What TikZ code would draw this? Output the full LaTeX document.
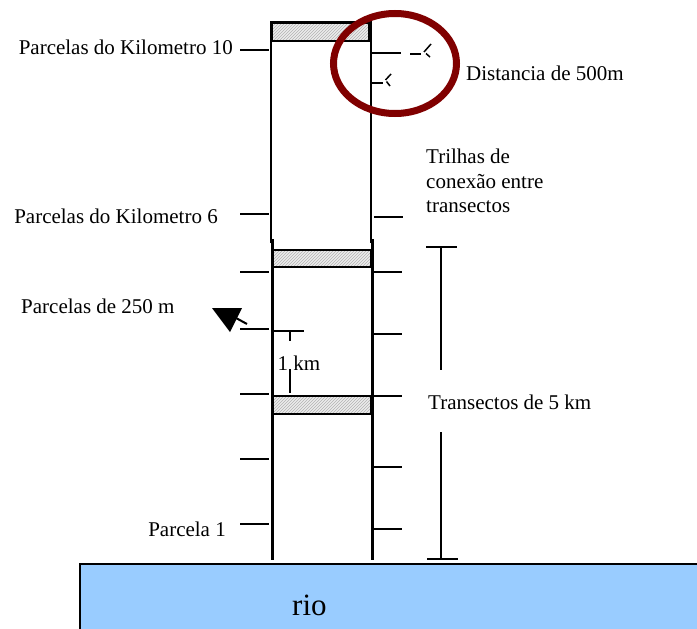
\documentclass[tikz,border=0pt]{standalone}
\usepackage{fontspec}
\setmainfont{Liberation Serif}
\usetikzlibrary{patterns}
\definecolor{vinho}{RGB}{128,0,0}
\definecolor{agua}{RGB}{153,204,255}

\begin{document}
\begin{tikzpicture}[x=1pt,y=-1pt,
  marca/.style={line width=2pt},
  borda/.style={line width=2.2pt},
  faixa/.style={line width=2pt, pattern=north east lines, pattern color=gray!60},
  rotulo/.style={inner sep=0pt, font=\fontsize{21}{25}\selectfont}]
\useasboundingbox (0,0) rectangle (697,629);
% rio
\draw [line width=1.8pt, fill=agua] (80,564) rectangle (700,632);
\node [rotulo, anchor=base west, font=\fontsize{31}{36}\selectfont] (rio) at (292,615) {rio};
% transecto
\draw [borda] (271,243) -- (271,22) -- (371,22) -- (371,243);
\draw [borda] (272.5,239) -- (272.5,560);
\draw [borda] (372.5,239) -- (372.5,560);
\fill [gray!15] (272,23) rectangle (369,40.5);
\draw [faixa] (272,23) rectangle (369,40.5);
\fill [gray!15] (273,249.5) rectangle (371,267);
\draw [faixa] (273,249.5) rectangle (371,267);
\fill [gray!15] (273,396) rectangle (371,414);
\draw [faixa] (273,396) rectangle (371,414);
% parcelas
\foreach \y in {50,214,272,329,394,459,524}
  \draw [marca] (240,\y) -- (269,\y);
\foreach \y in {272,334,396,467,529}
  \draw [marca] (373,\y) -- (402,\y);
\draw [marca] (372,53) -- (401,53);
\draw [marca] (374,217) -- (403,217);
\draw [marca] (372,83) -- (383,83);
% distancia
\draw [marca] (410,53.5) -- (421,53.5);
\draw [line width=1.5pt] (431,44) -- (424,52);
\draw [line width=1.5pt] (426,53.5) -- (430,57);
\draw [line width=1.5pt] (391,74) -- (385.5,80);
\draw [line width=1.5pt] (386.5,81.5) -- (390,86);
\draw [vinho, line width=7pt] (395,63.5) ellipse [x radius=61.5, y radius=50];
% 1 km
\draw [marca] (273,331) -- (304,331);
\draw [marca] (290,331) -- (290,341);
\draw [marca] (290,369) -- (290,393);
\node [rotulo, anchor=base west] (km) at (277.5,370) {1 km};
% seta
\fill (212,308) -- (242,308) -- (230,332) -- cycle;
\draw [line width=2pt] (236,318) -- (247,324);
% escala 5 km
\draw [marca] (426,247) -- (457,247);
\draw [marca] (441,247) -- (441,370);
\draw [marca] (441,432) -- (441,558);
\draw [marca] (427,558.5) -- (458,558.5);
% textos
\node [rotulo, anchor=base east] (km10) at (233,54) {Parcelas do Kilometro 10};
\node [rotulo, anchor=base east] (km6) at (218,223) {Parcelas do Kilometro 6};
\node [rotulo, anchor=base west] (p250) at (21,313) {Parcelas de 250 m};
\node [rotulo, anchor=base east] (p1) at (226,536) {Parcela 1};
\node [rotulo, anchor=base west] (dist) at (466,80) {Distancia de 500m};
\node [rotulo, anchor=base west] (tri1) at (426,163) {Trilhas de};
\node [rotulo, anchor=base west] (tri2) at (426,188) {conexão entre};
\node [rotulo, anchor=base west] (tri3) at (426,212) {transectos};
\node [rotulo, anchor=base west] (trans) at (428,409) {Transectos de 5 km};
\end{tikzpicture}
\end{document}
